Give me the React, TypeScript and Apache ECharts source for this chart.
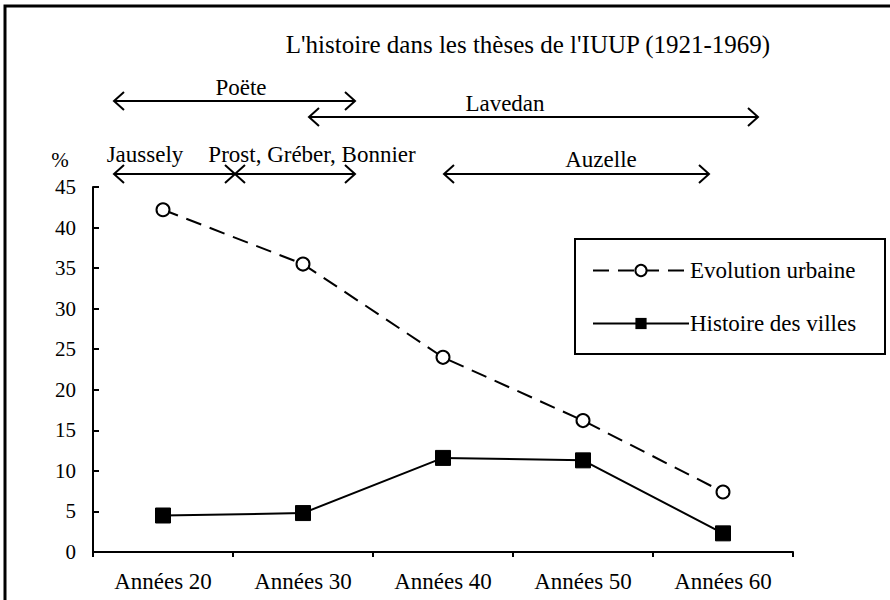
import React, { useEffect, useRef } from "react";
import * as echarts from "echarts";

const categories = ["Années 20", "Années 30", "Années 40", "Années 50", "Années 60"];
const evolutionUrbaine = [42.2, 35.5, 24.0, 16.2, 7.4];
const histoireVilles = [4.5, 4.8, 11.6, 11.3, 2.3];
const seriesNames = ["Evolution urbaine", "Histoire des villes"];
const titleText = "L'histoire dans les thèses de l'IUUP (1921-1969)";
const yTicks = { min: 0, max: 45, interval: 5 };

// Period annotations (label, arrow start x, arrow end x, arrow y, label x, label y)
const periods = [
  { label: "Poëte", x1: 114, x2: 355, y: 101, lx: 241, ly: 87 },
  { label: "Lavedan", x1: 309, x2: 758, y: 117, lx: 505, ly: 103 },
  { label: "Jaussely", x1: 114, x2: 235, y: 174, lx: 145, ly: 154 },
  { label: "Prost, Gréber, Bonnier", x1: 235, x2: 355, y: 174, lx: 312, ly: 154 },
  { label: "Auzelle", x1: 444, x2: 709, y: 174, lx: 601, ly: 159 },
];

const FONT = "Liberation Serif, Times New Roman, serif";

function arrowElements() {
  const els: any[] = [];
  const h = 10;
  const v = 9;
  const st = { stroke: "#000", lineWidth: 2, fill: null };
  periods.forEach((p) => {
    els.push({ type: "line", shape: { x1: p.x1, y1: p.y, x2: p.x2, y2: p.y }, style: { stroke: "#000", lineWidth: 2 } });
    els.push({ type: "polyline", shape: { points: [[p.x1 + h, p.y - v], [p.x1, p.y], [p.x1 + h, p.y + v]] }, style: st });
    els.push({ type: "polyline", shape: { points: [[p.x2 - h, p.y - v], [p.x2, p.y], [p.x2 - h, p.y + v]] }, style: st });
    els.push({
      type: "text",
      x: p.lx,
      y: p.ly,
      style: { text: p.label, fontSize: 23, fontFamily: FONT, fill: "#000", align: "center", verticalAlign: "middle" },
    });
  });
  return els;
}

export default function App() {
  const ref = useRef<HTMLDivElement>(null);
  useEffect(() => {
    document.body.style.margin = "0";
    const chart = echarts.init(ref.current!, null, { renderer: "svg" });
    chart.setOption({
      animation: false,
      backgroundColor: "#fff",
      textStyle: { fontFamily: FONT, color: "#000" },
      grid: { left: 93, right: 97, top: 187, bottom: 48, containLabel: false },
      legend: {
        orient: "vertical",
        left: 592,
        top: 259,
        itemGap: 30,
        itemWidth: 96,
        itemHeight: 14,
        padding: 0,
        data: seriesNames,
        textStyle: { fontSize: 23, fontFamily: FONT, color: "#000", padding: [0, 0, 0, -4] },
      },
      xAxis: {
        type: "category",
        data: categories,
        boundaryGap: true,
        axisLine: { lineStyle: { color: "#000", width: 2 } },
        axisTick: { show: true, inside: false, length: 5, lineStyle: { color: "#000", width: 2 } },
        axisLabel: { color: "#000", fontSize: 23, fontFamily: FONT, margin: 18 },
        splitLine: { show: false },
      },
      yAxis: {
        type: "value",
        min: yTicks.min,
        max: yTicks.max,
        interval: yTicks.interval,
        axisLine: { show: true, lineStyle: { color: "#000", width: 2 } },
        axisTick: { show: true, inside: true, length: 6, lineStyle: { color: "#000", width: 2 } },
        axisLabel: { color: "#000", fontSize: 21, fontFamily: FONT, margin: 17 },
        splitLine: { show: false },
      },
      series: [
        {
          name: seriesNames[0],
          type: "line",
          data: evolutionUrbaine,
          symbol: "circle",
          symbolSize: 13,
          itemStyle: { color: "#fff", borderColor: "#000", borderWidth: 2 },
          lineStyle: { color: "#000", width: 2, type: [16, 9] },
          z: 3,
        },
        {
          name: seriesNames[1],
          type: "line",
          data: histoireVilles,
          symbol: "rect",
          symbolSize: 15,
          itemStyle: { color: "#000", borderColor: "#000" },
          lineStyle: { color: "#000", width: 2 },
          z: 3,
        },
      ],
      graphic: [
        { type: "polyline", shape: { points: [[5, 600], [5, 6], [890, 6]] }, style: { stroke: "#000", lineWidth: 3, fill: null } },
        {
          type: "text",
          x: 528,
          y: 44,
          style: { text: titleText, fontSize: 25, fontFamily: FONT, fill: "#000", align: "center", verticalAlign: "middle" },
        },
        {
          type: "text",
          x: 60,
          y: 160,
          style: { text: "%", fontSize: 21, fontFamily: FONT, fill: "#000", align: "center", verticalAlign: "middle" },
        },
        { type: "rect", shape: { x: 575, y: 239, width: 310, height: 115 }, style: { stroke: "#000", lineWidth: 2, fill: null }, z: -1 },
        ...arrowElements(),
      ],
    });
    return () => chart.dispose();
  }, []);
  return <div ref={ref} style={{ width: 890, height: 600 }} />;
}
